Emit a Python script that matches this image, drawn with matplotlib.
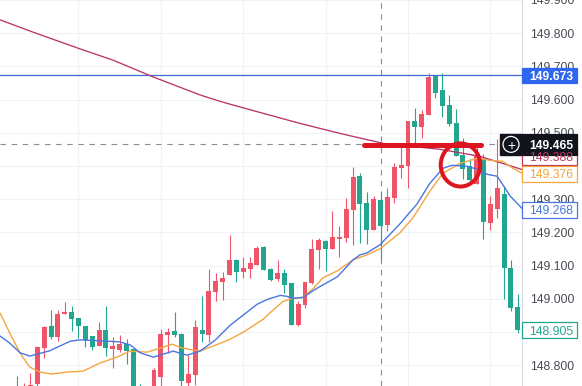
import matplotlib
matplotlib.use("Agg")
import matplotlib.pyplot as plt
from matplotlib.patches import Ellipse, Rectangle

# свечи, цены
first_bar = 2
opens = [148.725, 148.695, 148.725, 148.743, 148.852, 148.917, 148.884, 148.953, 148.959, 148.941,
         148.917, 148.887, 148.857, 148.905, 148.848, 148.845, 148.863, 148.848, 148.719, 148.695,
         148.710, 148.764, 148.890, 148.902, 148.893, 148.746, 148.770, 148.905, 148.890, 149.019,
         149.049, 149.072, 149.117, 149.081, 149.090, 149.102, 149.156, 149.090, 149.060, 149.078,
         149.046, 148.920, 148.980, 149.046, 149.147, 149.174, 149.150, 149.180, 149.183, 149.267,
         149.369, 149.288, 149.207, 149.297, 149.222, 149.303, 149.393, 149.399, 149.534, 149.516,
         149.554, 149.671, 149.629, 149.584, 149.528, 149.432, 149.399, 149.345, 149.420, 149.228,
         149.270, 149.315, 149.093, 148.974]
highs = [148.767, 148.746, 148.777, 148.857, 148.917, 148.965, 148.965, 148.989, 148.977, 148.941,
         148.917, 148.887, 148.929, 148.977, 148.884, 148.890, 148.878, 148.848, 148.743, 148.719,
         148.791, 148.908, 148.911, 148.959, 148.896, 148.830, 148.935, 149.007, 149.090, 149.078,
         149.081, 149.192, 149.120, 149.126, 149.126, 149.159, 149.159, 149.093, 149.117, 149.090,
         149.046, 148.992, 149.051, 149.180, 149.183, 149.177, 149.264, 149.219, 149.303, 149.396,
         149.378, 149.321, 149.309, 149.324, 149.333, 149.408, 149.465, 149.534, 149.575, 149.569,
         149.680, 149.674, 149.680, 149.614, 149.572, 149.483, 149.420, 149.465, 149.435, 149.309,
         149.480, 149.339, 149.117, 149.013]
lows = [148.680, 148.680, 148.710, 148.725, 148.822, 148.878, 148.872, 148.953, 148.902, 148.881,
        148.854, 148.845, 148.857, 148.827, 148.791, 148.839, 148.803, 148.695, 148.680, 148.689,
        148.695, 148.731, 148.836, 148.884, 148.731, 148.725, 148.740, 148.869, 148.869, 148.992,
        148.995, 149.072, 149.051, 149.063, 149.063, 149.102, 149.087, 149.054, 149.054, 149.016,
        148.920, 148.917, 148.971, 149.043, 149.090, 149.084, 149.150, 149.126, 149.171, 149.162,
        149.168, 149.165, 149.207, 149.117, 149.204, 149.288, 149.363, 149.333, 149.459, 149.483,
        149.554, 149.605, 149.546, 149.519, 149.429, 149.360, 149.354, 149.345, 149.180, 149.207,
        149.243, 148.998, 148.962, 148.896]
closes = [148.695, 148.719, 148.740, 148.855, 148.914, 148.884, 148.953, 148.959, 148.938, 148.917,
          148.875, 148.854, 148.905, 148.851, 148.857, 148.863, 148.842, 148.710, 148.695, 148.719,
          148.785, 148.893, 148.899, 148.890, 148.752, 148.773, 148.914, 148.893, 149.022, 149.054,
          149.063, 149.117, 149.081, 149.093, 149.108, 149.153, 149.087, 149.057, 149.078, 149.040,
          148.920, 148.983, 149.049, 149.150, 149.177, 149.150, 149.186, 149.186, 149.270, 149.366,
          149.285, 149.207, 149.300, 149.219, 149.306, 149.396, 149.402, 149.534, 149.516, 149.557,
          149.668, 149.620, 149.581, 149.525, 149.429, 149.390, 149.357, 149.429, 149.231, 149.285,
          149.333, 149.093, 148.971, 148.905]

# средние
blue_bars = [-0.4, 1, 2.5, 3.9, 6.8, 9.8, 11.2, 14.1, 17, 18.5, 20, 21.9, 24.8, 26.8, 28.7, 30.9, 33.1, 37, 38.5, 40.4,
             41.4, 42.2, 43.7, 45.7, 48.7, 51, 52, 53, 54.9, 57.8, 60.3, 62.2, 64.1, 65.4, 67.6, 69.1, 70.5, 72, 73.9, 75.8]
blue_vals = [148.887, 148.866, 148.837, 148.827, 148.843, 148.872, 148.876, 148.873, 148.870, 148.861,
             148.837, 148.824, 148.842, 148.830, 148.842, 148.875, 148.920, 148.983, 148.998, 149.010,
             149.007, 149.001, 149.004, 149.031, 149.066, 149.117, 149.132, 149.138, 149.162, 149.225,
             149.285, 149.348, 149.393, 149.402, 149.399, 149.390, 149.375, 149.369, 149.309, 149.268]
orange_bars = [-0.4, 1, 2.5, 3.9, 5.4, 7.1, 9.3, 11.7, 14.1, 16.6, 18.5, 21, 22.9, 24.6, 26.2, 28.7, 32.8, 35, 37.9, 39.3,
               40.8, 42.2, 43.7, 45.2, 46.6, 48.7, 51, 53, 54.9, 57.8, 59.7, 62.2, 64.1, 66.6, 69.1, 70.9, 72.8, 74.3, 75.8]
orange_vals = [148.956, 148.896, 148.836, 148.794, 148.779, 148.773, 148.779, 148.782, 148.806, 148.824,
               148.842, 148.839, 148.851, 148.863, 148.851, 148.842, 148.875, 148.899, 148.938, 148.965,
               148.992, 149.001, 149.004, 149.031, 149.063, 149.084, 149.117, 149.132, 149.150, 149.198,
               149.243, 149.324, 149.378, 149.408, 149.423, 149.417, 149.414, 149.393, 149.376]
pink_bars = [-0.4, 4.4, 10.9, 16, 21.9, 28.7, 31.9, 35, 43.3, 49.1, 55.4, 63.7, 69.5, 75.8]
pink_vals = [149.840, 149.803, 149.755, 149.719, 149.668, 149.614, 149.593, 149.575, 149.528, 149.498, 149.468, 149.450, 149.429, 149.388]

price_ticks = [148.8, 148.9, 149.0, 149.1, 149.2, 149.3, 149.4, 149.5, 149.6, 149.7, 149.8, 149.9]
hidden_ticks = [148.9, 149.4]  # полностью под плашками
time_grid = [11, 23, 35, 47, 59, 71]
high_line = 149.673
cross_bar = 55
cross_price = 149.465

UP = "#f05468"
DOWN = "#22a68f"
BLUE = "#4a76e0"
ORANGE = "#f3a63f"
PINK = "#b9346a"
HAND = "#dc1520"

W, H = 582, 386
fig = plt.figure(figsize=(W / 100, H / 100), dpi=100)
ax = fig.add_axes([0, 0, 522 / W, 1])
ax.set_xlim(-0.434, 75.61)
ax.set_ylim(148.737, 149.893)
to_axes = ax.get_yaxis_transform()

ax.set_axisbelow(True)
ax.set_xticks(time_grid)
ax.set_yticks(price_ticks)
ax.grid(color="#f0f2f5", lw=0.8)
ax.tick_params(length=0, labelbottom=False, labelleft=False, labelright=True, right=False, pad=6,
               labelsize=8.7, labelcolor="#474b53")
ax.set_yticklabels(["" if p in hidden_ticks else "%.3f" % p for p in price_ticks], family="Liberation Sans")
for side in ["top", "left", "bottom"]:
    ax.spines[side].set_visible(False)
ax.spines["right"].set_color("#d8dce3")
ax.spines["right"].set_linewidth(0.8)

ax.axvline(cross_bar, color="#8a8d94", lw=0.8, ls=(0, (5, 5)), zorder=1)
ax.plot([-0.434, 71.8], [cross_price, cross_price], color="#8a8d94", lw=0.8, ls=(0, (5, 5)), zorder=1)
ax.axhline(high_line, color="#3f68d8", lw=0.9, zorder=2)

for i in range(len(opens)):
    bar = first_bar + i
    color = UP if closes[i] >= opens[i] else DOWN
    ax.plot([bar, bar], [lows[i], highs[i]], color=color, lw=0.8, solid_capstyle="butt", zorder=3)
    ax.bar(bar, abs(closes[i] - opens[i]), bottom=min(opens[i], closes[i]), width=0.72, color=color, zorder=3)

ax.plot(pink_bars, pink_vals, color=PINK, lw=0.95, zorder=4)
ax.plot(orange_bars, orange_vals, color=ORANGE, lw=1.0, zorder=4)
ax.plot(blue_bars, blue_vals, color=BLUE, lw=1.0, zorder=4)

# рука: черта и кружок
ax.plot([52.6, 69.6], [149.462, 149.462], color=HAND, lw=3.6, solid_capstyle="round", zorder=5)
ax.add_patch(Ellipse((66.65, 149.403), 5.75, 0.130, fill=False, ec=HAND, lw=2.9, zorder=5))


def price_label(price, text, y=None, fill="white", edge=None, color="white", bold=False, height=0.047):
    y = price if y is None else y
    box = Rectangle((1.0, y - height / 2), 55 / 522, height, transform=to_axes, clip_on=False,
                    fc=fill, ec=edge or fill, lw=0.9, zorder=6)
    ax.add_patch(box)
    ax.text(1 + 29 / 522, y, text, transform=to_axes, ha="center", va="center_baseline", color=color,
            fontsize=8.7, family="Liberation Sans", fontweight="bold" if bold else "normal", zorder=7)


price_label(148.905, "148.905", edge=DOWN, color=DOWN)
price_label(149.268, "149.268", edge=BLUE, color=BLUE)
price_label(149.388, "149.388", y=149.427, edge="#c2355f", color="#c2355f")
price_label(149.376, "149.376", edge=ORANGE, color=ORANGE)
price_label(high_line, "149.673", fill="#2f66f0", bold=True)
price_label(cross_price, "149.465", fill="#11141c", bold=True, height=0.062)

# плюс у перекрестия
ax.add_patch(Rectangle((1 - 22 / 522, cross_price - 0.031), 22 / 522, 0.062, transform=to_axes,
                       fc="#11141c", ec="#11141c", zorder=6))
ax.text(1 - 11 / 522, cross_price, "+", transform=to_axes, color="white", fontsize=10, ha="center",
        va="center_baseline", zorder=7, family="Liberation Sans")
ax.add_patch(Ellipse((1 - 11 / 522, cross_price), 16 / 522, 16 * 0.002994, transform=to_axes, fill=False,
                     ec="white", lw=0.9, zorder=7))

fig.savefig("out.png", dpi=100)
